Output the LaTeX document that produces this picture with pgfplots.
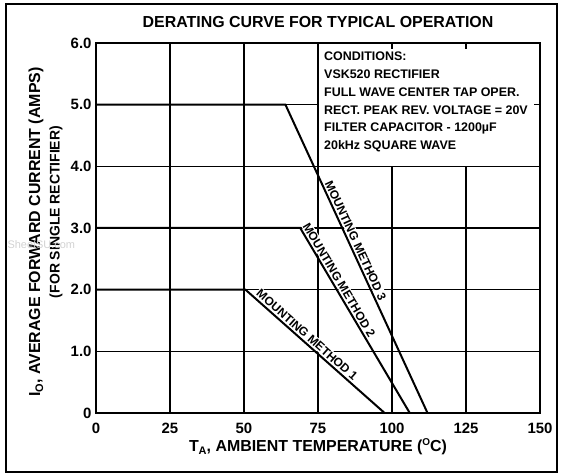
\documentclass[border=0pt]{standalone}
\usepackage{fontspec}
\setmainfont{Liberation Sans}
\usepackage{pgfplots}
\pgfplotsset{compat=1.18}
\begin{document}
\begin{tikzpicture}
\begin{axis}[name=ax, scale only axis, width=444bp, height=370bp,
  xmin=0, xmax=150, ymin=0, ymax=6,
  xtick={0,25,50,75,100,125,150}, ytick={0,1,2,3,4,5,6},
  xticklabels={0,25,50,75,100,125,150},
  yticklabels={0,1.0,2.0,3.0,4.0,5.0,6.0},
  tick label style={font=\fontsize{15}{15}\selectfont\bfseries},
  xticklabel style={yshift=-7bp},
  yticklabel style={xshift=-1bp},
  /pgf/number format/assume math mode=true,
  axis line style={line width=1.6bp},
  major tick length=6bp,
  tick style={line width=1.2bp, black},
  clip=false,
]
% grid
\draw[line width=1.2bp] (axis cs:25,0) -- (axis cs:25,6);
\draw[line width=1.2bp] (axis cs:50,0) -- (axis cs:50,6);
\draw[line width=1.4bp] (axis cs:75,0) -- (axis cs:75,6);
\draw[line width=1.2bp] (axis cs:100,0) -- (axis cs:100,4);
\draw[line width=1.2bp] (axis cs:125,0) -- (axis cs:125,4);
\draw[line width=1.2bp] (axis cs:0,1) -- (axis cs:150,1);
\draw[line width=1.2bp] (axis cs:0,2) -- (axis cs:150,2);
\draw[line width=1.2bp] (axis cs:0,3) -- (axis cs:150,3);
\draw[line width=1.4bp] (axis cs:0,4) -- (axis cs:150,4);
\draw[line width=1.2bp] (axis cs:0,5) -- (axis cs:75,5);
% data
\addplot[line width=2bp, black] coordinates {(0,5) (64,5) (112,0)};
\addplot[line width=2bp, black] coordinates {(0,3) (69,3) (106,0)};
\addplot[line width=2bp, black] coordinates {(0,2) (50.5,2) (97.5,0)};
% labels
\path (axis cs:64,5) -- (axis cs:112,0) node[pos=0.45, sloped, above=1.5bp, fill=white, inner sep=1bp, font=\fontsize{12}{12}\selectfont\bfseries] {MOUNTING METHOD 3};
\path (axis cs:69,3) -- (axis cs:106,0) node[pos=0.30, sloped, above=1.5bp, fill=white, inner sep=1bp, font=\fontsize{12}{12}\selectfont\bfseries] {MOUNTING METHOD 2};
\path (axis cs:50.5,2) -- (axis cs:97.5,0) node[pos=0.41, sloped, above=1.5bp, fill=white, inner sep=1bp, font=\fontsize{12}{12}\selectfont\bfseries] {MOUNTING METHOD 1};
% conditions
\node[anchor=north west, align=left, inner sep=0pt, font=\fontsize{12.5}{17.8}\selectfont\bfseries] at ([shift={(6bp,-9bp)}]axis cs:75,6)
 {CONDITIONS:\\VSK520 RECTIFIER\\FULL WAVE CENTER TAP OPER.\\RECT. PEAK REV. VOLTAGE = 20V\\FILTER CAPACITOR - 1200µF\\20kHz SQUARE WAVE};
\end{axis}
% title
\node[font=\fontsize{16}{16}\selectfont\bfseries] at ([yshift=21bp]ax.north) {DERATING CURVE FOR TYPICAL OPERATION};
% x label
\node[font=\fontsize{16}{16}\selectfont\bfseries] at ([yshift=-34bp]ax.south)
 {T\raisebox{-0.35ex}{\fontsize{11}{11}\selectfont A}, AMBIENT TEMPERATURE (\raisebox{0.7ex}{\fontsize{10}{10}\selectfont O}C)};
% y labels
\node[rotate=90, font=\fontsize{16}{16}\selectfont\bfseries] at ([shift={(-60bp,-4bp)}]ax.west)
 {I\raisebox{-0.35ex}{\fontsize{11}{11}\selectfont O}, AVERAGE FORWARD CURRENT (AMPS)};
\node[rotate=90, font=\fontsize{14}{14}\selectfont\bfseries] at ([shift={(-40bp,16bp)}]ax.west)
 {(FOR SINGLE RECTIFIER)};
% watermark
\node[anchor=west, text=gray!35, font=\fontsize{11}{11}\selectfont] at ([shift={(-92bp,-17bp)}]ax.west) {SheetSU.com};
% frame
\draw[line width=1.5bp] ([shift={(-90bp,-59bp)}]ax.south west) rectangle ([shift={(17bp,39bp)}]ax.north east);
\path ([shift={(-96bp,-61bp)}]ax.south west) rectangle ([shift={(25bp,43bp)}]ax.north east);
\end{tikzpicture}
\end{document}
